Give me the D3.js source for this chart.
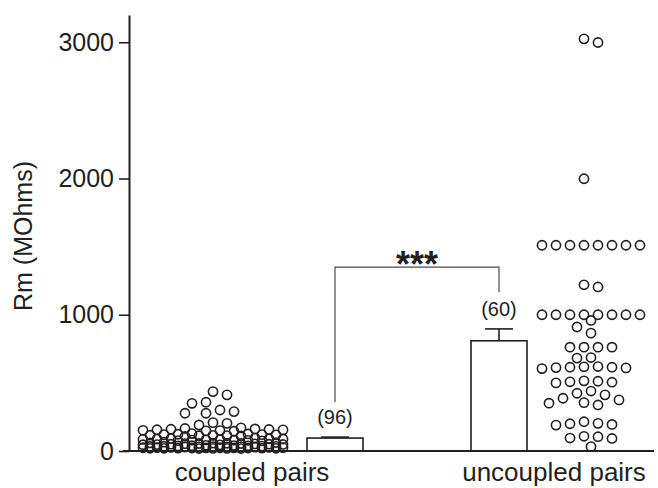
<!DOCTYPE html>
<html>
<head>
<meta charset="utf-8">
<script src="https://cdn.jsdelivr.net/npm/d3@7"></script>
<style>
  body { margin: 0; background: #fff; }
  svg { display: block; font-family: "Liberation Sans", Arial, Helvetica, sans-serif; }
</style>
</head>
<body>
<div id="chartWrapper"></div>
<script>
// groups, n per group, bar means and SEM
const groups = ["coupled pairs", "uncoupled pairs"];
const groupCounts = [96, 60];
const groupMeans = [95, 809];
const groupSems = [7, 87];
const yTicks = [0, 1000, 2000, 3000];
const significance = "***";

// individual cells, Rm in MOhms
const coupledValues = [
  436, 412, 358, 350, 301, 289, 277, 277, 208, 203, 191,
  170, 165, 162, 160, 158, 156, 155, 152, 150, 148, 145,
  128, 125, 123, 120, 120, 118, 116, 115, 113, 112, 110, 108,
  95, 92, 90, 88, 87, 85, 84, 82, 80, 80, 78, 76, 75,
  65, 62, 60, 58, 57, 55, 55, 54, 52, 50, 50, 48, 47, 46, 45,
  42, 40, 39, 38, 37, 36, 35, 34, 33, 32, 31, 30, 30, 29, 28, 27, 26,
  25, 25, 24, 24, 23, 23, 22, 22, 21, 21, 20, 20, 20, 19, 19, 18, 18,
];

const uncoupledValues = [
  3025, 2998, 1998,
  1510, 1510, 1510, 1510, 1510, 1510, 1510, 1510,
  1220, 1204,
  1000, 1000, 1000, 1000, 1000, 1000, 1000, 1000,
  958, 910, 865, 762, 762, 762, 762, 686, 682,
  620, 618, 615, 615, 612, 610, 605,
  515, 512, 508, 505, 500,
  440, 424, 412, 387, 375, 355, 351, 338,
  215, 203, 200, 195, 190,
  108, 105, 95, 92, 32,
];

// the bracket between the two bars (value units)
const bracketTop = 1350;
const bracketLegs = [360, 1165];

const ink = "#231f20";

function drawChart() {
  let dimensions = {
    width: 658,
    height: 488,
    margin: { top: 15, right: 2, bottom: 37, left: 129 },
  };
  dimensions.boundedWidth =
    dimensions.width - dimensions.margin.left - dimensions.margin.right;
  dimensions.boundedHeight =
    dimensions.height - dimensions.margin.top - dimensions.margin.bottom;

  const wrapper = d3
    .select("#chartWrapper")
    .append("svg")
    .attr("width", dimensions.width)
    .attr("height", dimensions.height);

  const bounds = wrapper
    .append("g")
    .attr(
      "transform",
      `translate(${dimensions.margin.left}, ${dimensions.margin.top})`
    );

  const yScale = d3
    .scaleLinear()
    .domain([0, 3200])
    .range([dimensions.boundedHeight, 0]);

  // column slots: scatter / bar / bar / scatter
  const slotScale = d3
    .scaleOrdinal()
    .domain(["coupled-points", "coupled-bar", "uncoupled-bar", "uncoupled-points"])
    .range([84, 206, 370, 455]);
  const labelScale = d3.scaleOrdinal().domain(groups).range([123, 425]);

  const barWidth = 56;
  const capWidth = 28;
  const radius = 4.6;

  // scatter layout: greedy dodge on a 7px grid, densest rows overlap
  function dodge(values, step, leftSteps, rightSteps, minDist) {
    const offsets = [0];
    for (let k = 1; k <= Math.max(leftSteps, rightSteps); k++) {
      if (k <= rightSteps) offsets.push(k * step);
      if (k <= leftSteps) offsets.push(-k * step);
    }
    const placed = [];
    const result = new Array(values.length);
    d3.range(values.length)
      .sort((a, b) => values[b] - values[a])
      .forEach((i) => {
        const py = yScale(values[i]);
        let best = 0;
        let bestDist = -1;
        for (const o of offsets) {
          let d = Infinity;
          for (const p of placed) d = Math.min(d, Math.hypot(p.dx - o, p.y - py));
          if (d >= minDist) {
            best = o;
            break;
          }
          if (d > bestDist) {
            best = o;
            bestDist = d;
          }
        }
        placed.push({ dx: best, y: py });
        result[i] = best;
      });
    return result;
  }

  const scatterSets = [
    { slot: "coupled-points", values: coupledValues, left: 10, right: 10 },
    { slot: "uncoupled-points", values: uncoupledValues, left: 7, right: 8 },
  ];

  scatterSets.forEach((set) => {
    const dx = dodge(set.values, 7, set.left, set.right, 11);
    bounds
      .append("g")
      .selectAll("circle")
      .data(set.values)
      .enter()
      .append("circle")
      .attr("cx", (d, i) => slotScale(set.slot) + dx[i])
      .attr("cy", (d) => yScale(d))
      .attr("r", radius)
      .attr("fill", "none")
      .attr("stroke", ink)
      .attr("stroke-width", 1.6);
  });

  // mean bars with SEM
  const barData = groups.map((g, i) => ({
    slot: i === 0 ? "coupled-bar" : "uncoupled-bar",
    mean: groupMeans[i],
    sem: groupSems[i],
    n: groupCounts[i],
  }));

  const barsGroup = bounds.append("g");

  barsGroup
    .selectAll("line.err")
    .data(barData)
    .enter()
    .append("line")
    .attr("class", "err")
    .attr("x1", (d) => slotScale(d.slot))
    .attr("x2", (d) => slotScale(d.slot))
    .attr("y1", (d) => yScale(d.mean))
    .attr("y2", (d) => yScale(d.mean + d.sem))
    .attr("stroke", ink)
    .attr("stroke-width", 1.6);

  barsGroup
    .selectAll("line.cap")
    .data(barData)
    .enter()
    .append("line")
    .attr("class", "cap")
    .attr("x1", (d) => slotScale(d.slot) - capWidth / 2)
    .attr("x2", (d) => slotScale(d.slot) + capWidth / 2)
    .attr("y1", (d) => yScale(d.mean + d.sem))
    .attr("y2", (d) => yScale(d.mean + d.sem))
    .attr("stroke", ink)
    .attr("stroke-width", 1.6);

  barsGroup
    .selectAll("rect")
    .data(barData)
    .enter()
    .append("rect")
    .attr("x", (d) => slotScale(d.slot) - barWidth / 2)
    .attr("y", (d) => yScale(d.mean))
    .attr("width", barWidth)
    .attr("height", (d) => yScale(0) - yScale(d.mean))
    .attr("fill", "#fff")
    .attr("stroke", ink)
    .attr("stroke-width", 1.6);

  barsGroup
    .selectAll("text")
    .data(barData)
    .enter()
    .append("text")
    .attr("x", (d) => slotScale(d.slot))
    .attr("y", (d) => yScale(d.mean + d.sem) - 13)
    .attr("text-anchor", "middle")
    .attr("font-size", "20px")
    .attr("fill", ink)
    .text((d) => `(${d.n})`);

  // significance bracket
  const xLeft = slotScale("coupled-bar");
  const xRight = slotScale("uncoupled-bar");
  bounds
    .append("path")
    .attr(
      "d",
      d3.line()([
        [xLeft, yScale(bracketLegs[0])],
        [xLeft, yScale(bracketTop)],
        [xRight, yScale(bracketTop)],
        [xRight, yScale(bracketLegs[1])],
      ])
    )
    .attr("fill", "none")
    .attr("stroke", "#4a4a4a")
    .attr("stroke-width", 1.2);

  bounds
    .append("text")
    .attr("x", (xLeft + xRight) / 2)
    .attr("y", yScale(bracketTop) + 10)
    .attr("text-anchor", "middle")
    .attr("font-size", "36px")
    .attr("font-weight", "bold")
    .attr("fill", ink)
    .text(significance);

  // y axis
  const yAxisGenerator = d3
    .axisLeft(yScale)
    .tickValues(yTicks)
    .tickFormat(d3.format("d"))
    .tickSize(10)
    .tickSizeOuter(0)
    .tickPadding(5);
  const yAxis = bounds
    .append("g")
    .call(yAxisGenerator)
    .attr("font-family", null)
    .attr("font-size", null);
  yAxis.select(".domain").attr("stroke", ink).attr("stroke-width", 2);
  yAxis.selectAll(".tick line").attr("stroke", ink).attr("stroke-width", 1.6);
  yAxis
    .selectAll(".tick text")
    .attr("font-size", "25px")
    .attr("fill", ink);

  // baseline
  bounds
    .append("line")
    .attr("x1", -6)
    .attr("x2", dimensions.boundedWidth - 2)
    .attr("y1", yScale(0))
    .attr("y2", yScale(0))
    .attr("stroke", ink)
    .attr("stroke-width", 2);

  // group labels
  bounds
    .append("g")
    .selectAll("text")
    .data(groups)
    .enter()
    .append("text")
    .attr("x", (d) => labelScale(d))
    .attr("y", dimensions.boundedHeight + 30)
    .attr("text-anchor", "middle")
    .attr("font-size", "26px")
    .attr("fill", ink)
    .text((d) => d);

  // y axis title
  wrapper
    .append("text")
    .attr("transform", "translate(32, 236) rotate(-90)")
    .attr("text-anchor", "middle")
    .attr("font-size", "25px")
    .attr("fill", ink)
    .text("Rm (MOhms)");
}

drawChart();
</script>
</body>
</html>
